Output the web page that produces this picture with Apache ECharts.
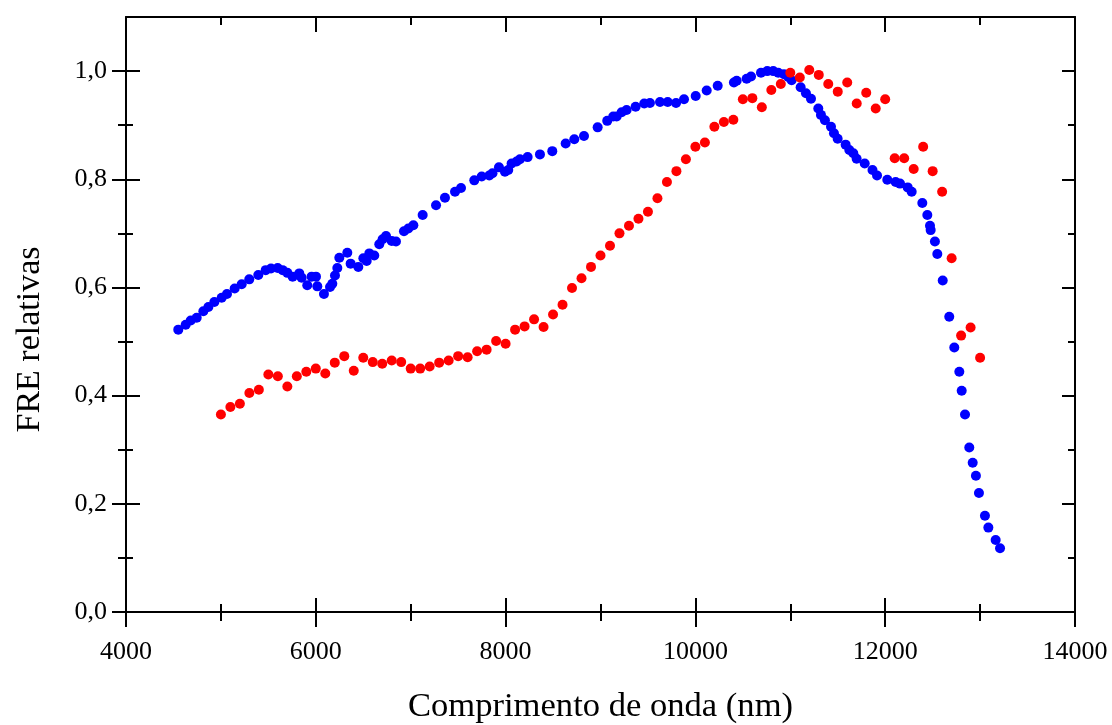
<!DOCTYPE html>
<html>
<head>
<meta charset="utf-8">
<script src="https://cdn.jsdelivr.net/npm/echarts@6/dist/echarts.min.js"></script>
<style>
html,body{margin:0;padding:0;background:#fff;}
#chart{width:1112px;height:725px;}
</style>
</head>
<body>
<div id="chart"></div>
<script>
// ---- data ----
const blueX = [4551,4629,4682,4745,4815,4868,4931,5008,5064,5145,5219,5299,5394,5472,5528,5598,5651,5700,5756,5826,5851,5910,5956,6002,6016,6086,6150,6174,6202,6227,6248,6332,6367,6448,6501,6536,6564,6616,6669,6704,6740,6800,6845,6929,6975,7028,7126,7267,7361,7467,7530,7670,7748,7828,7862,7930,7993,8028,8063,8116,8151,8232,8362,8492,8633,8724,8826,8970,9071,9134,9170,9223,9275,9370,9461,9521,9627,9708,9796,9880,10003,10119,10235,10406,10435,10540,10586,10691,10757,10820,10873,10933,10979,11014,11109,11165,11218,11295,11323,11365,11429,11460,11499,11583,11622,11664,11699,11784,11866,11914,12022,12110,12156,12237,12279,12391,12444,12472,12479,12524,12549,12606,12675,12728,12781,12806,12841,12886,12922,12956,12988,13051,13087,13164,13210];
const blueY = [0.522,0.531,0.539,0.544,0.556,0.564,0.573,0.581,0.588,0.598,0.606,0.615,0.623,0.632,0.635,0.636,0.632,0.627,0.620,0.626,0.618,0.604,0.620,0.620,0.602,0.588,0.601,0.607,0.622,0.636,0.655,0.664,0.644,0.638,0.654,0.649,0.663,0.659,0.680,0.689,0.695,0.686,0.685,0.704,0.709,0.715,0.734,0.752,0.766,0.777,0.784,0.798,0.805,0.807,0.811,0.822,0.814,0.817,0.829,0.833,0.837,0.841,0.846,0.852,0.866,0.874,0.880,0.896,0.908,0.916,0.916,0.924,0.928,0.934,0.940,0.941,0.943,0.943,0.941,0.948,0.954,0.964,0.973,0.979,0.982,0.986,0.990,0.997,1.000,1.000,0.997,0.994,0.989,0.983,0.970,0.959,0.949,0.931,0.919,0.909,0.897,0.885,0.875,0.864,0.854,0.848,0.838,0.829,0.817,0.807,0.799,0.795,0.792,0.785,0.777,0.756,0.734,0.714,0.706,0.685,0.662,0.613,0.546,0.489,0.444,0.409,0.365,0.304,0.276,0.252,0.220,0.178,0.156,0.133,0.118];

const redX = [5000,5100,5200,5300,5400,5500,5600,5700,5800,5900,6000,6100,6200,6300,6400,6500,6600,6700,6800,6900,7000,7100,7200,7300,7400,7500,7600,7700,7800,7900,8000,8100,8200,8300,8400,8500,8600,8700,8800,8900,9000,9100,9200,9300,9400,9500,9600,9700,9800,9900,10000,10100,10200,10300,10400,10500,10600,10700,10800,10900,11000,11100,11200,11300,11400,11500,11600,11700,11800,11900,12000,12100,12200,12300,12400,12500,12600,12700,12800,12900,13000];
const redY = [0.365,0.379,0.385,0.405,0.411,0.439,0.436,0.417,0.436,0.444,0.450,0.441,0.461,0.473,0.446,0.470,0.462,0.459,0.465,0.462,0.450,0.450,0.454,0.461,0.465,0.473,0.471,0.482,0.485,0.501,0.496,0.522,0.528,0.541,0.527,0.550,0.568,0.599,0.617,0.638,0.659,0.677,0.700,0.714,0.727,0.740,0.765,0.795,0.815,0.837,0.860,0.868,0.897,0.906,0.910,0.948,0.950,0.933,0.965,0.976,0.997,0.988,1.002,0.993,0.976,0.962,0.979,0.940,0.960,0.931,0.948,0.839,0.839,0.819,0.860,0.815,0.777,0.654,0.511,0.526,0.470];

// ---- ticks ----
const xMajorTicks = [4000,6000,8000,10000,12000,14000];
const xMinorTicks = [5000,7000,9000,11000,13000];
const yMajorTicks = [0,0.2,0.4,0.6,0.8,1.0];
const yMinorTicks = [0.1,0.3,0.5,0.7,0.9];
const xName = 'Comprimento de onda (nm)';
const yName = 'FRE relativas';

const FONT = '"Liberation Serif","Times New Roman",serif';
const LW = 2;

function xAx(opts){
  return Object.assign({
    type:'value', min:4000, max:14000, position:'bottom',
    splitLine:{show:false},
    axisLine:{show:false, onZero:false, lineStyle:{color:'#000', width:LW}},
    axisTick:{show:false},
    axisLabel:{show:false}
  }, opts);
}
function yAx(opts){
  return Object.assign({
    type:'value', min:0, max:1.1, position:'left',
    splitLine:{show:false},
    axisLine:{show:false, onZero:false, lineStyle:{color:'#000', width:LW}},
    axisTick:{show:false},
    axisLabel:{show:false}
  }, opts);
}
function tick(vals, inside, len){
  return {show:true, customValues:vals, inside:inside, length:len, lineStyle:{color:'#000', width:LW}};
}

const chart = echarts.init(document.getElementById('chart'), null, {renderer:'canvas'});
chart.setOption({
  animation:false,
  backgroundColor:'#fff',
  grid:{left:126, right:37, top:17, bottom:113, containLabel:false, outerBoundsMode:'none'},
  xAxis:[
    xAx({axisLine:{show:true, onZero:false, lineStyle:{color:'#000', width:LW}},
         axisLabel:{show:true, customValues:xMajorTicks, margin:27, color:'#000', fontFamily:FONT, fontSize:26,
                    formatter:function(v){return String(v);}},
         name:xName, nameLocation:'middle', nameGap:77,
         nameTextStyle:{color:'#000', fontFamily:FONT, fontSize:34.6}}),
    xAx({offset:-14, axisTick:tick(xMajorTicks,false,29)}),
    xAx({offset:-8, axisTick:tick(xMinorTicks,false,17)}),
    xAx({position:'top', axisLine:{show:true, onZero:false, lineStyle:{color:'#000', width:LW}}, axisTick:tick(xMajorTicks,true,15)}),
    xAx({position:'top', axisTick:tick(xMinorTicks,true,8)})
  ],
  yAxis:[
    yAx({axisLine:{show:true, onZero:false, lineStyle:{color:'#000', width:LW}},
         axisLabel:{show:true, customValues:yMajorTicks, margin:19, color:'#000', fontFamily:FONT, fontSize:26,
                    formatter:function(v){return v.toFixed(1).replace('.', ',');}},
         name:yName, nameLocation:'middle', nameGap:79,
         nameTextStyle:{color:'#000', fontFamily:FONT, fontSize:34, padding:[0,50,0,0]}}),
    yAx({offset:-14, axisTick:tick(yMajorTicks,false,28)}),
    yAx({offset:-7, axisTick:tick(yMinorTicks,false,15)}),
    yAx({position:'right', axisLine:{show:true, onZero:false, lineStyle:{color:'#000', width:LW}}, axisTick:tick(yMajorTicks,true,13)}),
    yAx({position:'right', axisTick:tick(yMinorTicks,true,7)})
  ],
  series:[
    {type:'scatter', name:'blue', xAxisIndex:0, yAxisIndex:0, symbol:'circle', symbolSize:10,
     itemStyle:{color:'#0000ff', opacity:1}, data:blueX.map((x,i)=>[x, blueY[i]])},
    {type:'scatter', name:'red', xAxisIndex:0, yAxisIndex:0, symbol:'circle', symbolSize:10,
     itemStyle:{color:'#ff0000', opacity:1}, data:redX.map((x,i)=>[x, redY[i]])}
  ]
});
</script>
</body>
</html>
